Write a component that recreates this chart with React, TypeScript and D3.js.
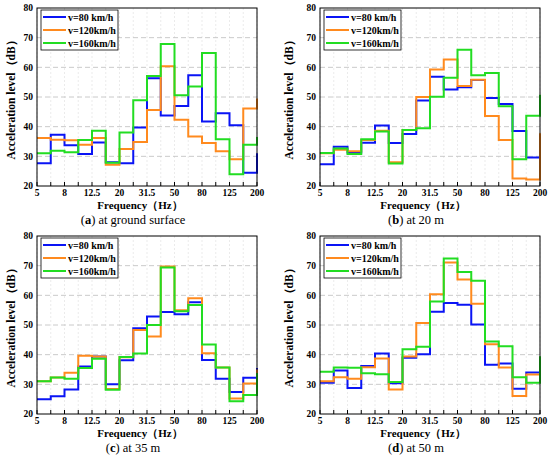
import React from 'react';
import * as d3 from 'd3';

// 1/3-octave band centre frequencies (x positions), every other one labelled
const bands = ['5', '6.3', '8', '10', '12.5', '16', '20', '25', '31.5', '40', '50', '63', '80', '100', '125', '160', '200'];
const yTicks = [20, 30, 40, 50, 60, 70, 80];
const speeds = ['v=80 km/h', 'v=120km/h', 'v=160km/h'];
const colors = ['#0a14f5', '#ff8a1e', '#22dd22'];

// step values per band (last value = stub at 200 Hz)
const groundV80 = [27.7, 37.3, 33.7, 30.8, 34.7, 28.0, 27.7, 39.7, 56.3, 43.8, 47.0, 57.3, 41.7, 44.5, 40.5, 24.5, 31.0];
const groundV120 = [36.2, 35.6, 35.4, 33.9, 36.2, 27.2, 32.5, 34.8, 45.6, 60.4, 42.3, 36.7, 34.5, 31.7, 29.0, 46.1, 49.5];
const groundV160 = [31.0, 31.9, 31.4, 35.5, 38.6, 27.8, 38.0, 48.9, 57.1, 67.9, 50.6, 53.5, 64.8, 35.8, 24.0, 33.9, 36.5];

const m20V80 = [27.3, 33.2, 31.3, 34.6, 40.4, 34.5, 37.5, 48.8, 56.8, 52.5, 53.3, 55.7, 49.7, 47.6, 38.5, 29.6, 29.6];
const m20V120 = [31.0, 32.2, 31.7, 35.5, 38.6, 28.0, 38.9, 50.0, 59.3, 62.6, 53.7, 55.8, 43.6, 35.5, 22.5, 22.2, 37.8];
const m20V160 = [31.1, 32.6, 30.8, 35.8, 38.4, 27.6, 38.9, 39.5, 50.1, 56.5, 65.9, 57.3, 58.1, 46.9, 29.0, 43.7, 50.8];

const m35V80 = [25.0, 26.0, 28.3, 36.0, 39.4, 30.0, 38.1, 48.9, 52.9, 54.4, 53.6, 57.7, 38.2, 31.9, 27.4, 32.2, 35.5];
const m35V120 = [31.0, 32.3, 33.9, 39.6, 39.4, 28.4, 39.1, 48.3, 46.1, 69.7, 55.0, 59.0, 40.5, 35.7, 25.2, 30.3, 35.0];
const m35V160 = [31.0, 32.3, 31.9, 35.5, 38.6, 28.2, 39.2, 40.4, 50.0, 69.4, 54.6, 56.7, 43.4, 35.7, 24.3, 26.4, 33.8];

const m50V80 = [30.5, 34.7, 28.8, 36.2, 40.4, 30.4, 39.0, 40.1, 54.5, 57.4, 56.8, 50.2, 36.6, 37.0, 28.5, 34.0, 34.0];
const m50V120 = [31.0, 32.4, 31.9, 35.8, 38.7, 28.3, 39.4, 50.7, 60.4, 71.1, 65.3, 57.2, 43.5, 35.7, 26.1, 33.3, 33.3];
const m50V160 = [34.2, 35.7, 35.6, 33.7, 33.4, 30.8, 41.8, 42.7, 57.9, 72.4, 67.9, 64.9, 44.4, 42.8, 32.4, 30.5, 39.5];

const panels = [
  { tag: '(a)', caption: ' at ground surface', left: 37, top: 8, yLab: 25, series: [groundV80, groundV120, groundV160] },
  { tag: '(b)', caption: ' at 20 m', left: 320, top: 8, yLab: 30, series: [m20V80, m20V120, m20V160] },
  { tag: '(c)', caption: ' at 35 m', left: 37, top: 236, yLab: 25, series: [m35V80, m35V120, m35V160] },
  { tag: '(d)', caption: ' at 50 m', left: 320, top: 236, yLab: 30, series: [m50V80, m50V120, m50V160] },
];

const W = 220;
const H = 178;
const serif = "'Liberation Serif', 'DejaVu Serif', 'Noto Serif', serif";

const Panel: React.FC<{ p: typeof panels[number] }> = ({ p }) => {
  const x = d3.scaleLinear().domain([0, bands.length - 1]).range([0, W]);
  const y = d3.scaleLinear().domain([20, 80]).range([H, 0]);
  const line = d3.line<number>()
    .x((_, i) => x(i))
    .y(d => y(d))
    .curve(d3.curveStepAfter);

  return (
    <g transform={`translate(${p.left},${p.top})`}>
      {/* grid */}
      {bands.map((_, i) => (
        <line key={`vg-${i}`} x1={x(i)} x2={x(i)} y1={0} y2={H} stroke="#e2e2e2" strokeWidth={0.7} strokeDasharray="2,2" />
      ))}
      {yTicks.slice(1, -1).map(t => (
        <line key={`hg-${t}`} x1={0} x2={W} y1={y(t)} y2={y(t)} stroke="#c4c4c4" strokeWidth={0.9} strokeDasharray="5,3" />
      ))}

      <defs>
        <clipPath id={`clip-${p.tag}`}>
          <rect x={-1} y={-1} width={W + 2} height={H + 2} />
        </clipPath>
      </defs>
      <g clipPath={`url(#clip-${p.tag})`}>
        {p.series.map((s, k) => (
          <path key={`s-${k}`} d={line(s) || ''} fill="none" stroke={colors[k]} strokeWidth={2} />
        ))}
      </g>

      {/* frame */}
      <rect x={0} y={0} width={W} height={H} fill="none" stroke="#000" strokeWidth={1} />
      {bands.map((_, i) => (
        <line key={`tk-${i}`} x1={x(i)} x2={x(i)} y1={H} y2={H - 4} stroke="#000" strokeWidth={1} />
      ))}

      {/* tick labels */}
      {bands.map((b, i) => i % 2 === 0 && (
        <text key={`xl-${i}`} x={x(i)} y={H + 9.5} textAnchor="middle" style={{ fontFamily: serif }} fontWeight="bold" fontSize={9.5}>{b}</text>
      ))}
      {yTicks.map(t => (
        <text key={`yl-${t}`} x={-4} y={y(t) + 3.3} textAnchor="end" style={{ fontFamily: serif }} fontWeight="bold" fontSize={9.5}>{t}</text>
      ))}

      {/* axis titles */}
      <text x={W / 2 - 7} y={H + 23} textAnchor="middle" style={{ fontFamily: serif }} fontWeight="bold" fontSize={11}>Frequency（Hz）</text>
      <text transform={`translate(${-p.yLab + 3},${H / 2}) rotate(-90)`} textAnchor="middle" style={{ fontFamily: serif }} fontWeight="bold" fontSize={11.5}>Acceleration level（dB）</text>

      {/* legend */}
      <rect x={4} y={2} width={77} height={40} fill="#fff" stroke="#000" strokeWidth={0.8} />
      {speeds.map((s, k) => (
        <g key={`lg-${k}`} transform={`translate(0,${9 + k * 13})`}>
          <line x1={6} x2={29} y1={0} y2={0} stroke={colors[k]} strokeWidth={2} />
          <text x={31} y={3.5} style={{ fontFamily: serif }} fontWeight="bold" fontSize={10}>{s}</text>
        </g>
      ))}

      {/* caption */}
      <text x={W / 2 - 14} y={H + 38} textAnchor="middle" style={{ fontFamily: serif }} fontSize={12.5}>
        <tspan>(</tspan><tspan fontWeight="bold">{p.tag.slice(1, 2)}</tspan><tspan>){p.caption}</tspan>
      </text>
    </g>
  );
};

export default function App() {
  return (
    <svg width={550} height={458} style={{ position: 'absolute', left: 0, top: 0, background: '#fff' }}>
      {panels.map(p => <Panel key={p.tag} p={p} />)}
    </svg>
  );
}
